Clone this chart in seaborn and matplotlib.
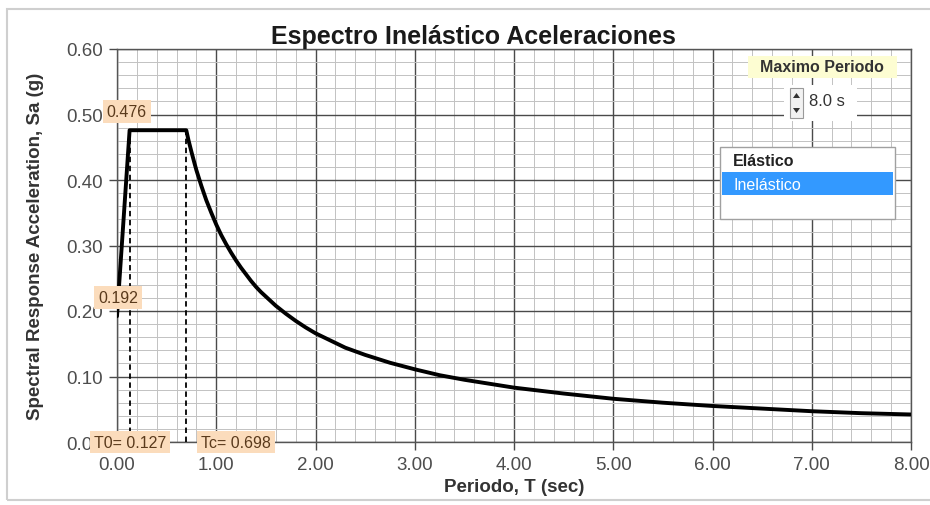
import numpy as np
import matplotlib
matplotlib.use("Agg")
import matplotlib.pyplot as plt
import seaborn as sns
import pandas as pd
from matplotlib.ticker import MultipleLocator, FormatStrFormatter
from matplotlib.patches import Rectangle, Polygon

# ---- data ----
period = [0.0, 0.127, 0.698, 0.72, 0.75, 0.78, 0.8, 0.85, 0.9, 0.95, 1.0, 1.05,
          1.1, 1.15, 1.2, 1.25, 1.3, 1.35, 1.4, 1.45, 1.5, 1.6, 1.7, 1.8, 1.9,
          2.0, 2.15, 2.3, 2.5, 2.75, 3.0, 3.25, 3.5, 3.75, 4.0, 4.5, 5.0, 5.5,
          6.0, 6.5, 7.0, 7.5, 8.0]
sa = [0.192, 0.476, 0.476, 0.461, 0.443, 0.426, 0.415, 0.391, 0.369, 0.350,
      0.332, 0.316, 0.302, 0.289, 0.277, 0.266, 0.256, 0.246, 0.237, 0.229,
      0.222, 0.208, 0.196, 0.185, 0.175, 0.166, 0.155, 0.144, 0.133, 0.121,
      0.111, 0.102, 0.095, 0.089, 0.083, 0.074, 0.066, 0.060, 0.055, 0.051,
      0.047, 0.044, 0.042]
t0 = 0.127
tc = 0.698
sa_max = 0.476
sa_0 = 0.192
x_ticks = [0, 1, 2, 3, 4, 5, 6, 7, 8]
y_ticks = [0.0, 0.1, 0.2, 0.3, 0.4, 0.5, 0.6]
title = "Espectro Inelástico Aceleraciones"
xlabel = "Periodo, T (sec)"
ylabel = "Spectral Response Acceleration, Sa (g)"
list_items = ["Elástico", "Inelástico"]
spin_title = "Maximo Periodo"
spin_value = "8.0 s"

sns.set_style("white")
plt.rcParams['font.family'] = ['Liberation Sans', 'DejaVu Sans']

W, H = 930, 506
fig = plt.figure(figsize=(W / 100, H / 100), dpi=100)
fig.patch.set_facecolor("white")


def fx(x):
    return x / W


def fy(y):
    return 1 - y / H


# outer frame
fig.patches.append(Rectangle((fx(7), fy(501)), fx(940) - fx(7), fy(10) - fy(501),
                             transform=fig.transFigure, facecolor="none",
                             edgecolor="#cfcfcf", lw=1.5, zorder=0))

ax = fig.add_axes([fx(117), fy(443), fx(911) - fx(117), fy(50) - fy(443)])
df = pd.DataFrame({"T": period, "Sa": sa})
sns.lineplot(data=df, x="T", y="Sa", ax=ax, color="black", lw=2.8,
             sort=False, estimator=None, zorder=5)

# dashed guide lines
for xv in (t0, tc):
    ax.plot([xv, xv], [0, sa_max], color="black", lw=1.3, ls=(0, (3, 2)), zorder=4)

ax.set_xlim(0, 8)
ax.set_ylim(0, 0.6)
ax.set_xticks(x_ticks)
ax.set_yticks(y_ticks)
ax.xaxis.set_minor_locator(MultipleLocator(0.2))
ax.yaxis.set_minor_locator(MultipleLocator(0.02))
ax.xaxis.set_major_formatter(FormatStrFormatter("%.2f"))
ax.yaxis.set_major_formatter(FormatStrFormatter("%.2f"))
ax.grid(which="major", color="#4a4a4a", lw=1.0)
ax.grid(which="minor", color="#c2c2c2", lw=0.7)
ax.set_axisbelow(True)
ax.tick_params(which="major", direction="out", length=6, width=1, color="#4a4a4a",
               labelsize=13.5, labelcolor="#4d4d4d", pad=4, left=True, bottom=True)
ax.tick_params(which="minor", length=0)
for s in ax.spines.values():
    s.set_color("#555555")
    s.set_linewidth(1.0)

ax.set_xlabel(xlabel, fontsize=13.5, fontweight="bold", color="#333333", labelpad=4)
ax.set_ylabel(ylabel, fontsize=13.5, fontweight="bold", color="#333333", labelpad=16)
fig.text(fx(473), fy(37), title, ha="center", va="center", fontsize=18,
         fontweight="bold", color="#1a1a1a")

# value labels
box = dict(boxstyle="square,pad=0.25", facecolor="#fbdcbc", edgecolor="none")
lab_kw = dict(fontsize=11.5, color="#5a3a1c", ha="center", va="center",
              bbox=box, clip_on=False, zorder=8)
ax.text(0.10, 0.505, f"{sa_max:.3f}", **lab_kw)
ax.text(0.01, 0.220, f"{sa_0:.3f}", **lab_kw)
ax.text(0.13, 0.0, f"T0= {t0:.3f}", **lab_kw)
ax.text(1.20, 0.0, f"Tc= {tc:.3f}", **lab_kw)

# "Maximo Periodo" spinner widget
fig.patches.append(Rectangle((fx(748), fy(79)), fx(897) - fx(748), fy(57) - fy(79),
                             transform=fig.transFigure, facecolor="#fdfdd2",
                             edgecolor="none", zorder=10))
fig.text(fx(822), fy(68), spin_title, ha="center", va="center", fontsize=11.5,
         fontweight="bold", color="#333333", zorder=11)
fig.patches.append(Rectangle((fx(784), fy(122)), fx(857) - fx(784), fy(86) - fy(122),
                             transform=fig.transFigure, facecolor="white",
                             edgecolor="none", zorder=10))
fig.patches.append(Rectangle((fx(790), fy(119)), fx(803) - fx(790), fy(89) - fy(119),
                             transform=fig.transFigure, facecolor="#f2f2f2",
                             edgecolor="#9a9a9a", lw=0.8, zorder=11))
fig.patches.append(Polygon([(fx(793), fy(99)), (fx(800), fy(99)), (fx(796.5), fy(94))],
                           closed=True, transform=fig.transFigure,
                           facecolor="#333333", edgecolor="none", zorder=12))
fig.patches.append(Polygon([(fx(793), fy(109)), (fx(800), fy(109)), (fx(796.5), fy(114))],
                           closed=True, transform=fig.transFigure,
                           facecolor="#333333", edgecolor="none", zorder=12))
fig.text(fx(809), fy(102), spin_value, ha="left", va="center", fontsize=12,
         color="#333333", zorder=12)

# list box
fig.patches.append(Rectangle((fx(720), fy(220)), fx(895) - fx(720), fy(148) - fy(220),
                             transform=fig.transFigure, facecolor="white",
                             edgecolor="#a0a0a0", lw=1.0, zorder=10))
fig.patches.append(Rectangle((fx(722), fy(196)), fx(893) - fx(722), fy(173) - fy(196),
                             transform=fig.transFigure, facecolor="#3399ff",
                             edgecolor="none", zorder=11))
fig.text(fx(733), fy(162), list_items[0], ha="left", va="center", fontsize=11.5,
         fontweight="bold", color="#222222", zorder=12)
fig.text(fx(733), fy(185), list_items[1], ha="left", va="center", fontsize=11.5,
         color="white", zorder=12)

fig.savefig("out.png", dpi=100)
